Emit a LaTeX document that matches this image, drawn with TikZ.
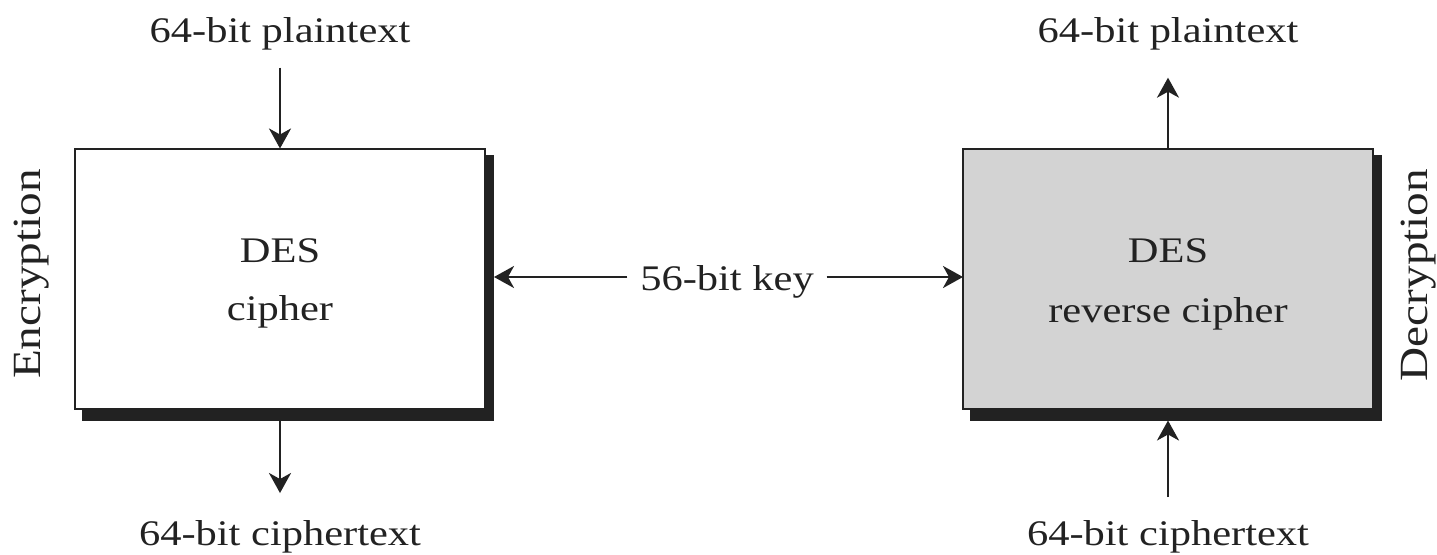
\documentclass[tikz,border=0pt]{standalone}
\usepackage{fontspec}
\setmainfont{Liberation Serif}[FakeStretch=1.18]
\usetikzlibrary{arrows.meta}
\definecolor{ink}{HTML}{222222}
\definecolor{panel}{HTML}{D3D3D3}
\begin{document}
\begin{tikzpicture}[x=1pt,y=-1pt,
  lbl/.style={font=\fontsize{36}{40}\selectfont, text=ink, inner sep=0pt, outer sep=0pt, anchor=base},
  side/.style={font=\fontsize{40}{44}\selectfont, text=ink, inner sep=0pt, outer sep=0pt, anchor=base, rotate=90},
  cipherbox/.style={draw=ink, line width=2pt, inner sep=0pt, outer sep=0pt,
    minimum width=410pt, minimum height=260pt},
  dropshade/.style={fill=ink, inner sep=0pt, outer sep=0pt,
    minimum width=412pt, minimum height=266pt},
  arr/.style={draw=ink, line width=2.5pt, -{Stealth[length=20pt,width=22pt,inset=6pt]}}]
\useasboundingbox (0,0) rectangle (1437,554);
\fill[white] (0,0) rectangle (1437,554);

% encryption side
\node[dropshade] (encsh) at (288,288) {};
\node[cipherbox, fill=white] (encbox) at (280,278.5) {};
\node[lbl] (encA) at (280,262) {DES};
\node[lbl] (encB) at (280,320) {cipher};
\node[lbl] (ptL) at (280,42) {64-bit plaintext};
\node[lbl] (ctL) at (280,545) {64-bit ciphertext};
\node[side] (enc) at (40,274) {Encryption};

% decryption side
\node[dropshade] (decsh) at (1176,287.5) {};
\node[cipherbox, fill=panel] (decbox) at (1168,278.5) {};
\node[lbl] (decA) at (1168,262) {DES};
\node[lbl] (decB) at (1168,322) {reverse cipher};
\node[lbl] (ptR) at (1168,42) {64-bit plaintext};
\node[lbl] (ctR) at (1168,545) {64-bit ciphertext};
\node[side] (dec) at (1427,275) {Decryption};

% shared key
\node[lbl] (key) at (727,290) {56-bit key};
\coordinate (keyL) at ([xshift=-13pt,yshift=13pt]key.base west);
\coordinate (keyR) at ([xshift=13pt,yshift=13pt]key.base east);

% data flow
\draw[arr] ([yshift=-18pt]ptL.south) -- (encbox.north);
\draw[arr] (encbox.south |- encsh.south) -- ([yshift=27pt]ctL.north);
\draw[arr] (decbox.north) -- ([yshift=-28pt]ptR.south);
\draw[arr] ([yshift=23pt]ctR.north) -- (decbox.south |- decsh.south);
\draw[arr] (keyL) -- (keyL -| encsh.east);
\draw[arr] (keyR) -- (keyR -| decbox.west);
\end{tikzpicture}
\end{document}
